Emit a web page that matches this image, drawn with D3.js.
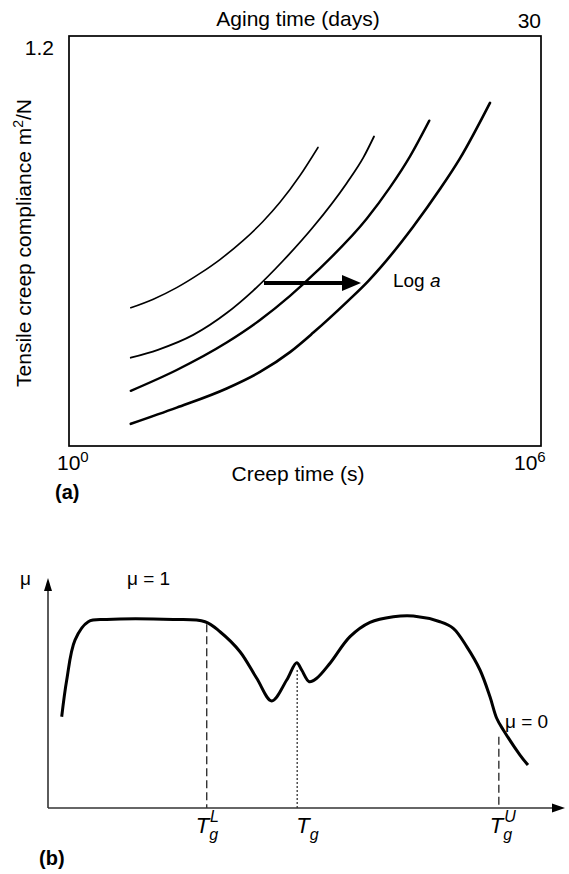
<!DOCTYPE html>
<html><head><meta charset="utf-8">
<script src="https://cdn.jsdelivr.net/npm/d3@7"></script>
<style>
body{margin:0;background:#fff}
svg{display:block}
text{font-family:"Liberation Sans",Arial,Helvetica,sans-serif;fill:#000}
</style>
</head><body>
<svg id="c" width="569" height="874"></svg>
<script>
// ---------- Panel (a): creep compliance curves ----------
const creepTimeA = [6.1, 11.8, 23.4, 46.3, 83, 163, 292, 481, 864, 1463];
const complianceA = [0.418, 0.444, 0.479, 0.522, 0.564, 0.621, 0.679, 0.737, 0.818, 0.903];
const creepTimeB = [6.1, 13.5, 38, 101, 220, 530, 1276, 3388, 5508, 7536];
const complianceB = [0.267, 0.291, 0.336, 0.402, 0.470, 0.561, 0.663, 0.795, 0.872, 0.936];
const creepTimeC = [6.1, 23.4, 101, 268, 645, 1409, 6084, 12030, 21620, 38020];
const complianceC = [0.167, 0.230, 0.313, 0.381, 0.454, 0.528, 0.687, 0.782, 0.876, 0.984];
const creepTimeD = [6.1, 23.4, 101, 268, 645, 1276, 3521, 6324, 9440, 23820, 52000, 93350, 224800];
const complianceD = [0.067, 0.116, 0.174, 0.224, 0.284, 0.343, 0.439, 0.498, 0.544, 0.664, 0.777, 0.870, 1.038];
const shiftArrowTime = [301, 5150];
const shiftArrowCompliance = 0.493;
const xTicksA = [1, 1e6];
const xTickExponents = ["0", "6"];
const yTicksA = [1.2];
const agingTickLabel = "30";

// ---------- Panel (b): mu vs temperature ----------
const temperature = [2.65, 3.62, 5.22, 7.79, 11.35, 24.24, 30.37, 33.27, 37.14, 40.37, 43.27, 46.17, 48.10, 49.07, 50.54, 51.97, 54.55, 58.41, 62.28, 66.79, 70.66, 75.82, 78.39, 80.99, 83.56, 85.49, 86.79, 88.07, 91.3, 92.84];
const mu = [0.484, 0.679, 0.891, 0.988, 1.0, 1.0, 0.988, 0.935, 0.829, 0.688, 0.568, 0.679, 0.771, 0.732, 0.670, 0.688, 0.768, 0.909, 0.985, 1.015, 1.019, 0.988, 0.953, 0.856, 0.732, 0.590, 0.476, 0.414, 0.281, 0.228];
const markerTemps = [30.7, 48.2, 87.2];
const markerTops = [0.975, 0.732, 0.378];
const markerSup = ["L", "", "U"];

const svg = d3.select("#c");

// ===== Panel (a) =====
const xA = d3.scaleLog().domain([1, 1e6]).range([69, 541]);
const yA = d3.scaleLinear().domain([0, 1.24]).range([446, 36]);

const gA = svg.append("g");
gA.append("rect")
  .attr("x", xA(1)).attr("y", yA(1.24))
  .attr("width", xA(1e6) - xA(1)).attr("height", yA(0) - yA(1.24))
  .attr("fill", "none").attr("stroke", "#000").attr("stroke-width", 1.7);

const lineA = d3.line().x(d => xA(d[0])).y(d => yA(d[1])).curve(d3.curveMonotoneX);
const seriesA = [
  [creepTimeA, complianceA, 1.6],
  [creepTimeB, complianceB, 1.8],
  [creepTimeC, complianceC, 2.4],
  [creepTimeD, complianceD, 2.6]
];
seriesA.forEach(([t, c, w]) => {
  gA.append("path")
    .datum(d3.zip(t, c))
    .attr("d", lineA)
    .attr("fill", "none").attr("stroke", "#000").attr("stroke-width", w)
    .attr("stroke-linecap", "round");
});

// shift arrow
const ay = yA(shiftArrowCompliance);
const ax0 = xA(shiftArrowTime[0]), ax1 = xA(shiftArrowTime[1]);
gA.append("line").attr("x1", ax0).attr("y1", ay).attr("x2", ax1 - 16).attr("y2", ay)
  .attr("stroke", "#000").attr("stroke-width", 3.8);
gA.append("path")
  .attr("d", `M${ax1},${ay} L${ax1 - 19},${ay - 8} L${ax1 - 19},${ay + 8} Z`)
  .attr("fill", "#000");
const logT = gA.append("text").attr("x", ax1 + 32).attr("y", ay + 4).attr("font-size", 19);
logT.append("tspan").text("Log ");
logT.append("tspan").attr("font-style", "italic").text("a");

// y tick label
yTicksA.forEach(v => {
  gA.append("text").attr("x", xA(1) - 15).attr("y", yA(v) + 6)
    .attr("text-anchor", "end").attr("font-size", 21).text(d3.format(".1f")(v));
});
// x tick labels (powers of ten)
const xTickDx = [-12, -27];
xTicksA.forEach((v, i) => {
  const t = gA.append("text").attr("x", xA(v) + xTickDx[i]).attr("y", 470).attr("font-size", 21);
  t.append("tspan").text("10");
  t.append("tspan").attr("dy", -8).attr("font-size", 15).text(xTickExponents[i]);
});
// top axis
gA.append("text").attr("x", 298).attr("y", 26).attr("text-anchor", "middle")
  .attr("font-size", 21).text("Aging time (days)");
gA.append("text").attr("x", xA(1e6)).attr("y", 28).attr("text-anchor", "end")
  .attr("font-size", 21).text(agingTickLabel);
// bottom axis title
gA.append("text").attr("x", 298).attr("y", 481).attr("text-anchor", "middle")
  .attr("font-size", 21).text("Creep time (s)");
// y axis title
const yt = gA.append("text").attr("transform", "translate(31,243) rotate(-90)")
  .attr("text-anchor", "middle").attr("font-size", 21);
yt.append("tspan").text("Tensile creep compliance m");
yt.append("tspan").attr("dy", -8).attr("font-size", 14).text("2");
yt.append("tspan").attr("dy", 8).text("/N");
// panel label
gA.append("text").attr("x", 55).attr("y", 499).attr("font-size", 20).attr("font-weight", "bold").text("(a)");

// ===== Panel (b) =====
const xB = d3.scaleLinear().domain([0, 100]).range([48, 565]);
const yB = d3.scaleLinear().domain([0, 1.22]).range([808, 578]);
const gB = svg.append("g");

// axes with arrows
gB.append("line").attr("x1", xB(0)).attr("y1", yB(0)).attr("x2", xB(0)).attr("y2", yB(1.22) + 10)
  .attr("stroke", "#333").attr("stroke-width", 1.6);
gB.append("path").attr("d", `M${xB(0)},${yB(1.22)} L${xB(0) - 4},${yB(1.22) + 13} L${xB(0) + 4},${yB(1.22) + 13} Z`).attr("fill", "#000");
gB.append("line").attr("x1", xB(0)).attr("y1", yB(0)).attr("x2", xB(100) - 10).attr("y2", yB(0))
  .attr("stroke", "#333").attr("stroke-width", 1.6);
gB.append("path").attr("d", `M${xB(100)},${yB(0)} L${xB(100) - 13},${yB(0) - 4.5} L${xB(100) - 13},${yB(0) + 4.5} Z`).attr("fill", "#000");

// marker lines
markerTemps.forEach((t, i) => {
  gB.append("line").attr("x1", xB(t)).attr("x2", xB(t)).attr("y1", yB(markerTops[i])).attr("y2", yB(0))
    .attr("stroke", "#333").attr("stroke-width", i === 1 ? 1.3 : 1.4)
    .attr("stroke-dasharray", i === 1 ? "2,2" : "8,4");
});

// mu curve
const lineB = d3.line().x(d => xB(d[0])).y(d => yB(d[1])).curve(d3.curveCatmullRom.alpha(0.5));
gB.append("path").datum(d3.zip(temperature, mu)).attr("d", lineB)
  .attr("fill", "none").attr("stroke", "#000").attr("stroke-width", 3).attr("stroke-linejoin", "round");

// labels
gB.append("text").attr("x", 20).attr("y", 585).attr("font-size", 19).text("μ");
gB.append("text").attr("x", 127).attr("y", 585).attr("font-size", 19).text("μ = 1");
gB.append("text").attr("x", 505).attr("y", 728).attr("font-size", 19).text("μ = 0");

const markerLabelDx = [-11, -1, -9];
markerTemps.forEach((t, i) => {
  const tx = gB.append("text").attr("x", xB(t) + markerLabelDx[i]).attr("y", 833).attr("font-size", 22).attr("font-style", "italic");
  tx.append("tspan").text("T");
  tx.append("tspan").attr("dy", 7).attr("font-size", 16).text("g");
  if (markerSup[i]) {
    tx.append("tspan").attr("dx", -8).attr("dy", -18).attr("font-size", 16).text(markerSup[i]);
  }
});
gB.append("text").attr("x", 39).attr("y", 865).attr("font-size", 20).attr("font-weight", "bold").text("(b)");
</script>
</body></html>
